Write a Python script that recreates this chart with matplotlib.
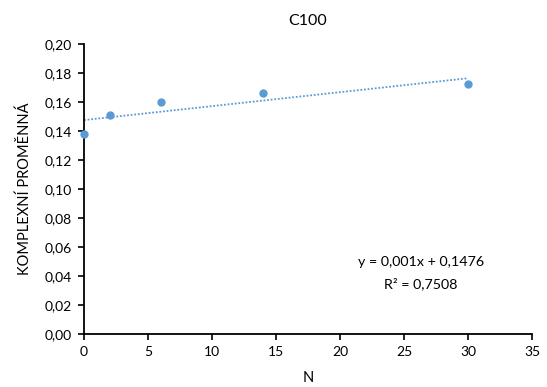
import numpy as np
import matplotlib
matplotlib.use("Agg")
import matplotlib.pyplot as plt
from matplotlib.ticker import FuncFormatter, MultipleLocator

plt.rcParams['font.family'] = ['Lato', 'DejaVu Sans']

# data
n_vals = [0, 2, 6, 14, 30]
komplex = [0.138, 0.151, 0.160, 0.1665, 0.1725]
eq_text = "y = 0,001x + 0,1476"
r2_text = "R² = 0,7508"
BLUE = "#5B9BD5"

fig = plt.figure(figsize=(5.47, 3.87), dpi=100)
ax = fig.add_axes([0.1536, 0.137, 0.819, 0.749])

ax.plot(n_vals, komplex, "o", color=BLUE, markersize=5, zorder=3, clip_on=False)

# linear trendline
slope, icpt = np.polyfit(n_vals, komplex, 1)
xs = np.array([min(n_vals), max(n_vals)])
ax.plot(xs, slope * xs + icpt, color=BLUE, ls=(0, (1, 1)), lw=1.3)

ax.set_xlim(0, 35)
ax.set_ylim(0, 0.20)
ax.xaxis.set_major_locator(MultipleLocator(5))
ax.yaxis.set_major_locator(MultipleLocator(0.02))
ax.yaxis.set_major_formatter(FuncFormatter(lambda v, p: f"{v:.2f}".replace(".", ",")))

for s in ["top", "right"]:
    ax.spines[s].set_visible(False)
for s in ["left", "bottom"]:
    ax.spines[s].set_linewidth(1.3)
ax.tick_params(direction="out", length=4, width=1.2, labelsize=10, pad=5)

ax.set_title("C100", fontsize=11.5, pad=14)
ax.set_xlabel("N", fontsize=10.5, labelpad=9)
ax.set_ylabel("KOMPLEXNÍ PROMĚNNÁ", fontsize=10.5, labelpad=9)

ax.text(26.3, 0.0495, eq_text, ha="center", va="center", fontsize=10.3)
ax.text(26.3, 0.0345, r2_text, ha="center", va="center", fontsize=10.3)

fig.savefig("out.png", dpi=100)
